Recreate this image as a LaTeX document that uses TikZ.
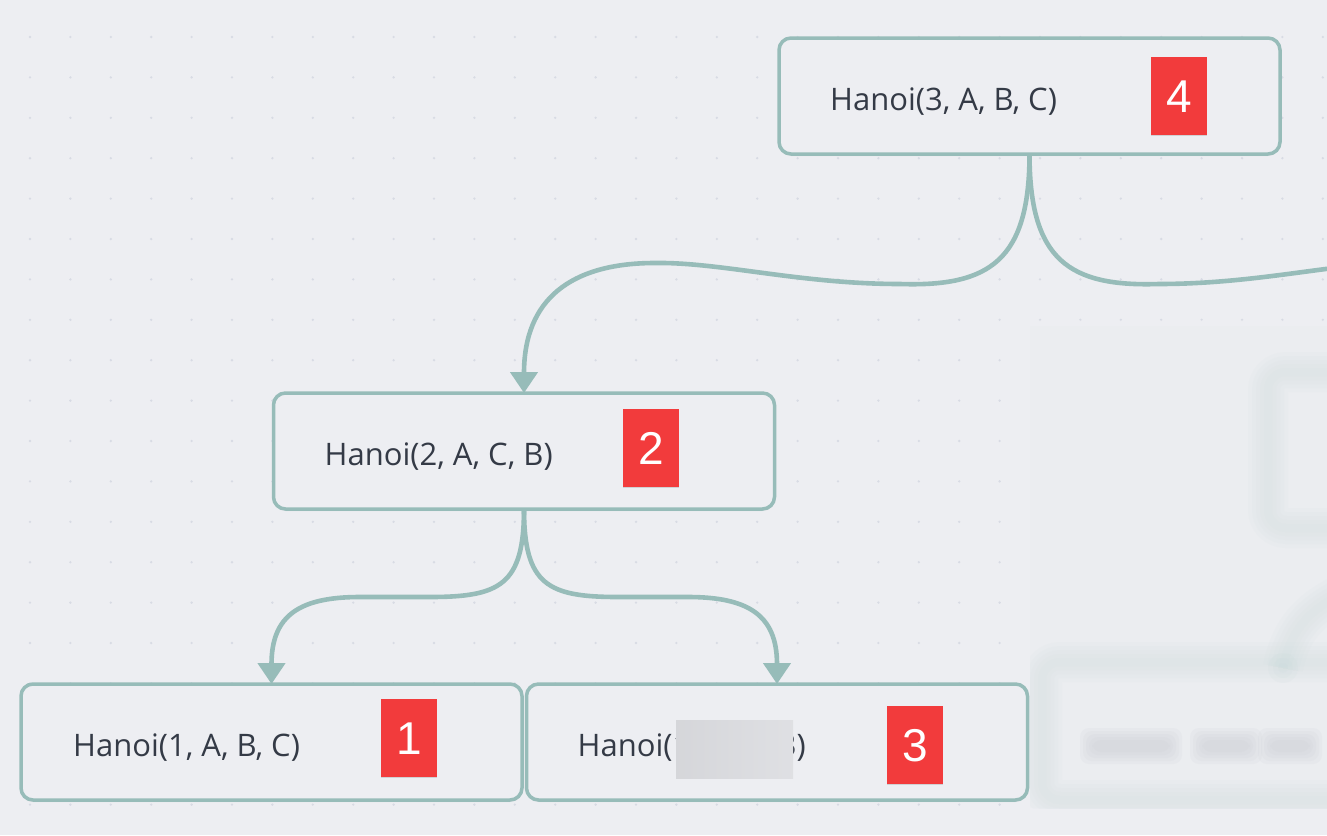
\documentclass[tikz,border=0pt]{standalone}
\usepackage{fontspec}
\setmainfont{Open Sans}
\newfontfamily\digitfont{Liberation Sans}
\usetikzlibrary{arrows.meta,calc}
\definecolor{bgc}{HTML}{EDEEF2}
\definecolor{dotc}{HTML}{D8DBE4}
\definecolor{edgec}{HTML}{97BCB9}
\definecolor{redc}{HTML}{F23B3C}
\definecolor{txtc}{HTML}{343A46}
\definecolor{blurbase}{HTML}{EBEDF0}
\definecolor{blurteal}{HTML}{C9DADA}
\definecolor{blurtext}{HTML}{C9CBD2}
\newcommand\blurfill[5]{%
  \foreach \d in {12,9,6,3,0}{%
    \fill[#1,opacity=0.13,rounded corners=9pt] ({#2-\d},{#3-\d}) rectangle ({#4+\d},{#5+\d});}}
\newcommand\blurline[2]{%
  \foreach \w in {40,32,24,16,8}{%
    \draw[#1,opacity=0.07,line width=\w pt,rounded corners=18pt] #2;}}
\begin{document}
\begin{tikzpicture}[x=1pt,y=-1pt,
  box/.style={draw=edgec, line width=3.5pt, fill=bgc, rounded corners=12pt,
    minimum width=501pt, minimum height=116pt, inner sep=0pt, outer sep=0pt,
    preaction={fill=black, opacity=0.05, transform canvas={yshift=-2pt}}},
  lbl/.style={anchor=base west, inner sep=0pt, text=txtc,
    font=\fontsize{31}{36}\selectfont},
  badge/.style={anchor=north west, fill=redc, minimum width=56pt,
    minimum height=78pt, inner sep=0pt, text=white,
    font=\digitfont\fontsize{46}{50}\selectfont,
    preaction={fill=black, opacity=0.12, transform canvas={yshift=-1pt}}},
  edge/.style={draw=edgec, line width=4.6pt, -{Triangle[width=27pt,length=21pt]}},
  edgeopen/.style={draw=edgec, line width=4.6pt}]
\useasboundingbox (0,0) rectangle (1327,835);
\clip (0,0) rectangle (1327,835);
\fill[bgc] (0,0) rectangle (1327,835);
% dot grid
\foreach \i in {0,...,32}{\foreach \j in {0,...,19}{
  \fill[dotc] ({30+40.4*\i},{37+40.4*\j}) circle (1.3);}}
% blurred region
\fill[blurbase] (1030,326) rectangle (1327,808);
\foreach \d in {0,2,4,6}{\fill[bgc,opacity=0.25] (1030,{320+\d}) rectangle (1327,{326+\d});}
\begin{scope}
\clip (1030,320) rectangle (1327,808);
\blurline{blurteal}{(1268,372) rectangle (1360,528)}
\blurline{blurteal}{(1042,662) rectangle (1360,800)}
\blurline{blurteal}{(1283,668) .. controls (1290,630) and (1310,610) .. (1340,595)}
\foreach \w in {30,20,10}{\fill[blurteal,opacity=0.12] (1283,668) circle ({\w/2});}
\blurfill{blurtext}{1092}{740}{1170}{752}
\blurfill{blurtext}{1202}{740}{1250}{752}
\blurfill{blurtext}{1270}{740}{1310}{752}
\end{scope}
% boxes
\node[box] (n4) at (1029.5,96) {};
\node[box] (n2) at (524,451) {};
\node[box] (n1) at (271.5,742) {};
\node[box] (n3) at (777,742) {};
% labels
\node[lbl] (t4) at ($(n4.north west)+(51,72)$) {Hanoi(3, A, B, C)};
\node[lbl] (t2) at ($(n2.north west)+(51,72)$) {Hanoi(2, A, C, B)};
\node[lbl] (t1) at ($(n1.north west)+(52,72)$) {Hanoi(1, A, B, C)};
\node[lbl] (t3) at ($(n3.north west)+(51,72)$) {Hanoi(1, C, A, B)};
\shade[left color=black!10!bgc, right color=black!6!bgc] (676,720) rectangle (793,778);
% badges
\node[badge] (b4) at (1151,57) {4};
\node[badge] (b2) at (623,409) {2};
\node[badge] (b1) at (381,699) {1};
\node[badge] (b3) at (887,706) {3};
% connectors
\coordinate (offR) at (1403,263);
\draw[edge] (n4.south) .. controls (1029.5,260) and (990,287) .. (900,284)
  .. controls (800,284) and (720,262) .. (655,263)
  .. controls (570,263) and (524,300) .. (n2.north);
\draw[edgeopen] (n4.south) .. controls (1029.5,260) and (1069,287) .. (1159,284)
  .. controls (1259,284) and (1339,262) .. (offR);
\draw[edge] (n2.south) .. controls (524,585) and (500,597) .. (430,597)
  -- (360,597) .. controls (300,597) and (271.5,615) .. (n1.north);
\draw[edge] (n2.south) .. controls (524,585) and (548,597) .. (618,597)
  -- (688,597) .. controls (748,597) and (777,615) .. (n3.north);
\end{tikzpicture}
\end{document}
